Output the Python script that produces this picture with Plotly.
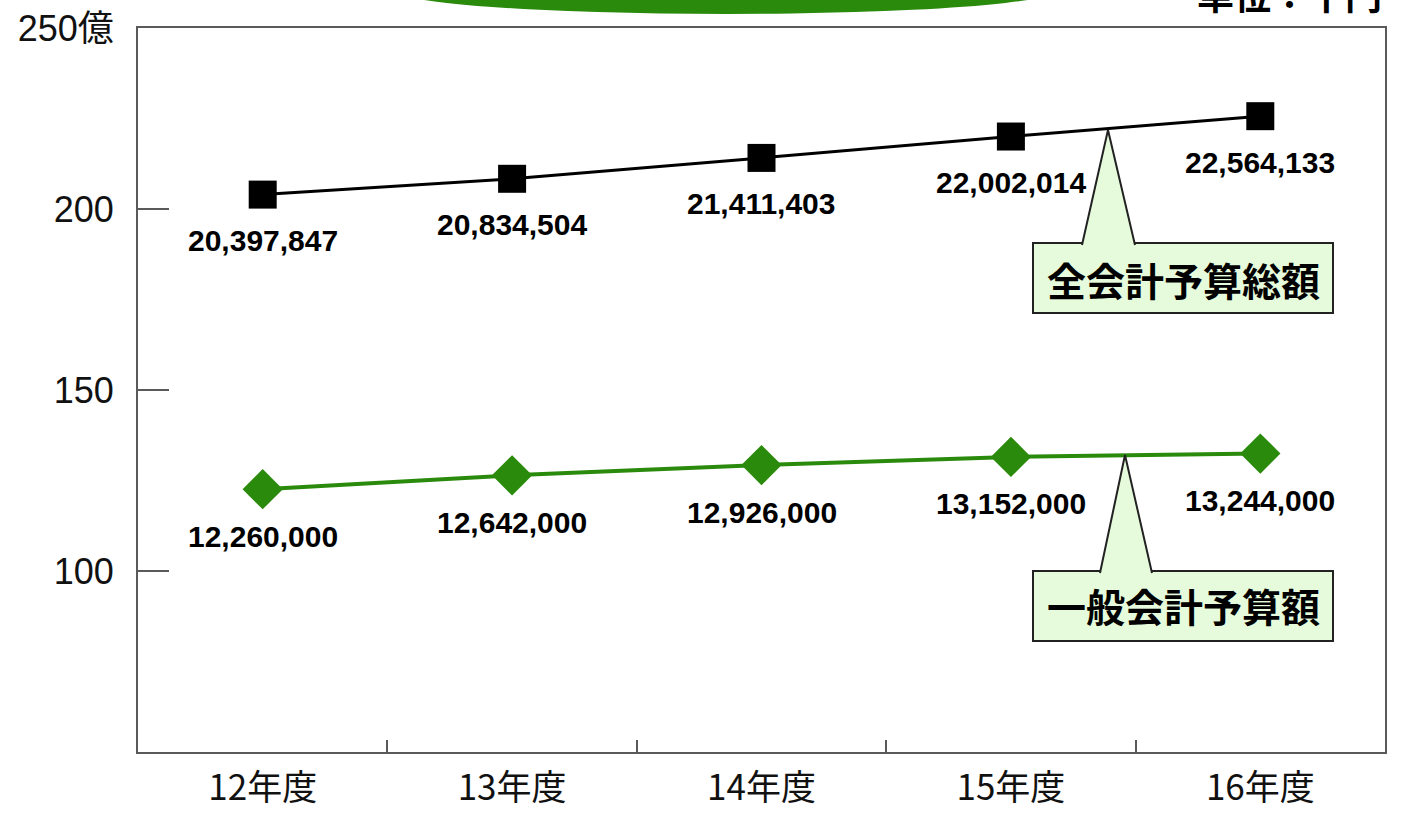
import plotly.graph_objects as go

# ---- data ----
years = ["12年度", "13年度", "14年度", "15年度", "16年度"]
total_budget = [20397847, 20834504, 21411403, 22002014, 22564133]   # 千円 全会計予算総額
general_budget = [12260000, 12642000, 12926000, 13152000, 13244000]  # 千円 一般会計予算額
y_tickvals = [100, 150, 200, 250]
y_ticktext = ["100", "150", "200", "250億"]

OKU = 100000  # 千円 -> 億円

GREEN = "#2a8a0c"
CALLOUT_FILL = "#e6fbdb"
FRAME = "#5a5a5a"
LABEL_FONT = "Liberation Sans, Noto Sans CJK JP"
JP = "Noto Sans CJK JP, Liberation Sans"

W, H = 1406, 815
L, R, T, B = 138, 21, 28, 63
PW, PH = W - L - R, H - T - B
YMIN, YMAX = 50, 250

def px_x(px):
    return (px - L) / PW

def px_y_data(py):
    return YMIN + (T + PH - py) / PH * (YMAX - YMIN)

def px_y_paper(py):
    return (T + PH - py) / PH

fig = go.Figure()

fig.add_trace(go.Scatter(
    x=years, y=[v / OKU for v in total_budget], mode="lines+markers",
    line=dict(color="#000000", width=3),
    marker=dict(symbol="square", size=28, color="#000000"),
    name="全会計予算総額", hoverinfo="skip"))

fig.add_trace(go.Scatter(
    x=years, y=[v / OKU for v in general_budget], mode="lines+markers",
    line=dict(color=GREEN, width=4),
    marker=dict(symbol="diamond", size=31, color=GREEN),
    name="一般会計予算額", hoverinfo="skip"))

annotations = []
for yr, v in zip(years, total_budget):
    annotations.append(dict(x=yr, y=v / OKU, xref="x", yref="y", text=f"{v:,}",
                            showarrow=False, yshift=-46, xanchor="center",
                            font=dict(family=LABEL_FONT, size=30, color="#000000", weight="bold")))
for yr, v in zip(years, general_budget):
    annotations.append(dict(x=yr, y=v / OKU, xref="x", yref="y", text=f"{v:,}",
                            showarrow=False, yshift=-47, xanchor="center",
                            font=dict(family=LABEL_FONT, size=30, color="#000000", weight="bold")))

shapes = []
# header ellipse (cut off at top)
shapes.append(dict(type="circle", xref="paper", yref="paper",
                   x0=px_x(390), x1=px_x(1062), y0=px_y_paper(14), y1=px_y_paper(-36),
                   fillcolor=GREEN, line=dict(width=0), layer="above"))

def callout(box_l, box_r, box_t, box_b, base_l, base_r, apex_x, apex_y, text, text_y):
    shapes.append(dict(type="rect", xref="paper", yref="y",
                       x0=px_x(box_l), x1=px_x(box_r),
                       y0=px_y_data(box_b), y1=px_y_data(box_t),
                       fillcolor=CALLOUT_FILL, line=dict(color="#222222", width=2),
                       layer="above"))
    path = (f"M {px_x(base_l)},{px_y_data(box_t + 2)} "
            f"L {px_x(apex_x)},{px_y_data(apex_y)} "
            f"L {px_x(base_r)},{px_y_data(box_t + 2)}")
    shapes.append(dict(type="path", xref="paper", yref="y", path=path,
                       fillcolor=CALLOUT_FILL, line=dict(color="#222222", width=2),
                       layer="above"))
    annotations.append(dict(x=px_x((box_l + box_r) / 2), y=px_y_data(text_y),
                            xref="paper", yref="y", text=text, showarrow=False,
                            xanchor="center", yanchor="middle",
                            font=dict(family=JP, size=39, color="#000000", weight="bold")))

callout(1033, 1333, 243, 313, 1082, 1135, 1108, 130, "全会計予算総額", 279)
callout(1033, 1333, 571, 641, 1100, 1152, 1125, 455, "一般会計予算額", 605)

# unit label (cut off at top)
annotations.append(dict(x=px_x(1384), y=px_y_paper(-6), xref="paper", yref="paper",
                        text="単位：千円", showarrow=False, xanchor="right", yanchor="middle",
                        font=dict(family=JP, size=37, color="#000000", weight="bold")))

fig.update_layout(
    width=W, height=H,
    margin=dict(l=L, r=R, t=T, b=B, autoexpand=False),
    paper_bgcolor="#ffffff", plot_bgcolor="#ffffff",
    showlegend=False,
    annotations=annotations, shapes=shapes,
    xaxis=dict(type="category", range=[-0.5, 4.5], tickson="boundaries",
               ticks="inside", ticklen=12, tickwidth=2, tickcolor=FRAME,
               showline=True, linecolor=FRAME, linewidth=2, mirror=True,
               showgrid=False, zeroline=False, ticklabelstandoff=4, automargin=False,
               tickfont=dict(family="Noto Sans CJK JP", size=35, color="#111111")),
    yaxis=dict(range=[YMIN, YMAX], tickvals=y_tickvals, ticktext=y_ticktext,
               ticks="inside", ticklen=31, tickwidth=2, tickcolor=FRAME,
               showline=True, linecolor=FRAME, linewidth=2, mirror=True,
               showgrid=False, zeroline=False, ticklabelstandoff=15, automargin=False,
               tickfont=dict(family="Liberation Sans, Noto Sans CJK JP", size=36, color="#111111")),
)

fig.write_html("out.html", config={"displayModeBar": False},
               post_script="document.body.style.margin='0px';")
